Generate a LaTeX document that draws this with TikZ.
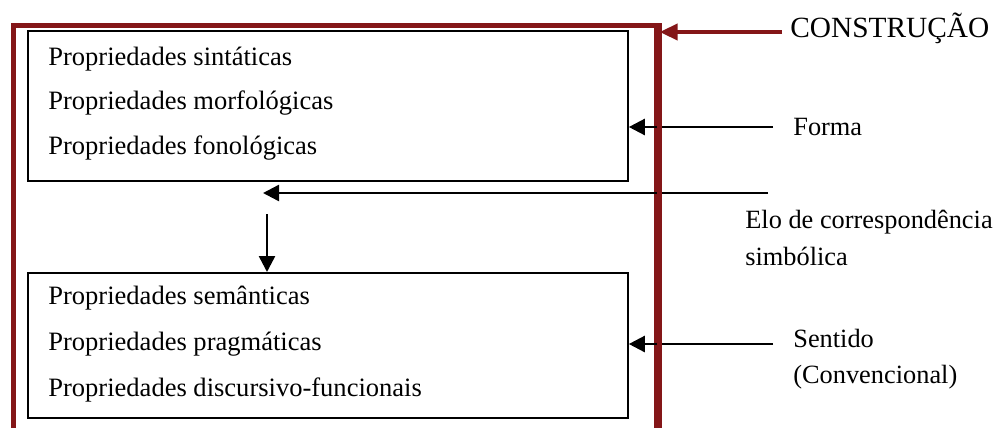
\documentclass[tikz,border=0pt]{standalone}
\usepackage{fontspec}
\setmainfont{Liberation Serif}
\usetikzlibrary{arrows.meta,positioning}
\definecolor{constred}{RGB}{132,22,24}

\begin{document}
\begin{tikzpicture}[x=0.02cm,y=-0.02cm]
\tikzset{propbox/.style={draw,line width=1.1pt,anchor=north west,inner sep=0pt}}
\tikzset{prop/.style={anchor=base west,inner sep=0pt,font=\fontsize{15.1}{17}\selectfont}}
\tikzset{tag/.style={anchor=base west,inner sep=0pt,font=\fontsize{15}{17}\selectfont}}
\tikzset{link/.style={line width=1.4pt,-{Triangle[length=0.32cm,width=0.32cm]}}}
\useasboundingbox (0,0) rectangle (997,427);
% caixas
\node[propbox,minimum width=12.0cm,minimum height=3.0cm] (formabox) at (27,30) {};
\node[propbox,minimum width=12.0cm,minimum height=2.9cm] (sentidobox) at (27,272) {};
\node[draw=constred,line width=3pt,anchor=north west,inner sep=0pt,
      minimum width=12.88cm,minimum height=10cm] (constbox) at (10.5,23) {};
% propriedades
\node[prop] (sint) at (48,65) {Propriedades sintáticas};
\node[prop] (morf) at (48,109) {Propriedades morfológicas};
\node[prop] (fono) at (48,154) {Propriedades fonológicas};
\node[prop] (sema) at (48,304) {Propriedades semânticas};
\node[prop] (prag) at (48,350) {Propriedades pragmáticas};
\node[prop] (disc) at (48,396) {Propriedades discursivo-funcionais};
% rotulos
\node[anchor=base west,inner sep=0pt,font=\fontsize{16.7}{19}\selectfont] (constr) at (790,37) {CONSTRUÇÃO};
\node[tag] (forma) at (793,135) {Forma};
\node[tag] (elo) at (745,228) {Elo de correspondência};
\node[tag] (elo2) at (745,265) {simbólica};
\node[tag] (sentido) at (793,347) {Sentido};
\node[tag] (conv) at (793,383) {(Convencional)};
% setas
\coordinate (formatail) at (773,127);
\coordinate (elotail) at (768,193);
\coordinate (elotip) at (263,193);
\coordinate (downtail) at (267,214);
\coordinate (sentidotail) at (773,344);
\coordinate (constrtail) at (782,32);
\draw[link] (formatail) -- (formabox.east |- formatail);
\draw[link] (elotail) -- (elotip);
\draw[link] (downtail) -- (downtail |- sentidobox.north);
\draw[link] (sentidotail) -- (sentidobox.east |- sentidotail);
\draw[constred,line width=2.2pt,-{Triangle[length=0.36cm,width=0.32cm]}] (constrtail) -- (constbox.east |- constrtail);
% borda vermelha por cima das setas
\draw[constred,line width=3pt] (constbox.north east) -- (constbox.south east);
\end{tikzpicture}
\end{document}
